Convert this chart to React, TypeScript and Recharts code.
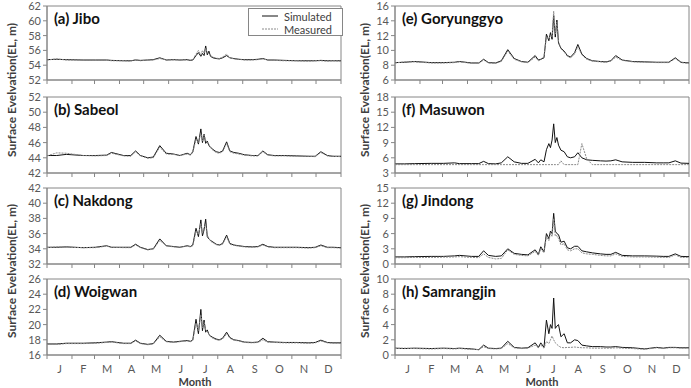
import React from "react";
import { LineChart, Line, XAxis, YAxis, ReferenceArea } from "recharts";

// day of year for every sample (shared by all stations)
const days = [0, 12, 24, 45, 60, 74, 80, 95, 104, 110, 116, 125, 132, 140, 148, 157, 165, 174, 178, 181, 185, 188, 191, 193, 195, 197, 199, 201, 203, 206, 210, 214, 218, 223, 227, 232, 238, 245, 255, 262, 268, 274, 282, 295, 310, 325, 333, 340, 348, 355, 365];

const monthStarts = [0, 31, 59, 90, 120, 151, 181, 212, 243, 273, 304, 334, 365];
const monthLabels = ["J", "F", "M", "A", "M", "J", "J", "A", "S", "O", "N", "D"];

const jiboSim = [54.75, 54.8, 54.75, 54.7, 54.7, 54.7, 54.65, 54.6, 54.6, 54.7, 54.65, 54.7, 54.75, 55.0, 54.7, 54.75, 54.7, 54.75, 54.65, 54.7, 55.3, 55.7, 55.2, 55.6, 55.3, 56.6, 55.4, 55.9, 55.2, 55.0, 54.9, 54.85, 55.0, 55.3, 55.0, 54.9, 54.8, 54.75, 54.75, 54.8, 54.9, 54.7, 54.7, 54.65, 54.6, 54.6, 54.6, 54.65, 54.6, 54.6, 54.6];
const jiboObs = [54.7, 54.85, 54.7, 54.7, 54.65, 54.7, 54.6, 54.6, 54.55, 54.75, 54.6, 54.7, 54.7, 54.9, 54.75, 54.7, 54.75, 54.7, 54.7, 54.75, 55.5, 56.0, 55.4, 56.0, 55.6, 56.3, 55.7, 55.6, 55.3, 55.1, 54.95, 54.9, 55.1, 55.5, 55.0, 54.85, 54.8, 54.7, 54.7, 54.75, 54.85, 54.7, 54.65, 54.6, 54.6, 54.55, 54.6, 54.6, 54.55, 54.6, 54.55];

const sabeolSim = [44.3, 44.3, 44.45, 44.3, 44.3, 44.35, 44.7, 44.3, 44.3, 44.9, 44.3, 44.0, 44.1, 45.6, 44.6, 44.5, 44.3, 44.6, 44.4, 44.8, 46.8, 45.8, 47.8, 46.0, 47.1, 45.9, 46.2, 45.6, 45.4, 45.1, 44.8, 44.7, 44.9, 46.1, 44.9, 44.7, 44.6, 44.4, 44.3, 44.3, 44.9, 44.4, 44.3, 44.3, 44.25, 44.2, 44.2, 44.8, 44.3, 44.2, 44.2];
const sabeolObs = [44.25, 44.65, 44.6, 44.3, 44.25, 44.3, 44.6, 44.25, 44.2, 44.8, 44.25, 43.95, 44.0, 45.4, 44.5, 44.45, 44.3, 44.5, 44.35, 44.7, 46.4, 46.0, 47.2, 46.2, 47.0, 46.3, 46.0, 45.8, 45.3, 45.0, 44.7, 44.6, 44.8, 45.9, 44.8, 44.6, 44.5, 44.35, 44.25, 44.25, 44.8, 44.35, 44.25, 44.25, 44.2, 44.2, 44.15, 44.7, 44.25, 44.2, 44.15];

const nakdongSim = [34.2, 34.2, 34.25, 34.15, 34.2, 34.4, 34.2, 34.2, 34.2, 34.6, 34.2, 33.9, 34.0, 35.3, 34.4, 34.3, 34.2, 34.4, 34.3, 34.5, 36.7, 35.6, 37.8, 35.7, 36.5, 37.9, 35.6, 35.3, 35.1, 34.9, 34.6, 34.5, 34.7, 35.8, 34.7, 34.5, 34.4, 34.3, 34.25, 34.3, 34.6, 34.3, 34.2, 34.2, 34.2, 34.15, 34.2, 34.5, 34.2, 34.2, 34.15];
const nakdongObs = [34.15, 34.25, 34.2, 34.15, 34.15, 34.35, 34.2, 34.15, 34.15, 34.5, 34.15, 33.85, 33.95, 35.1, 34.4, 34.25, 34.2, 34.35, 34.25, 34.4, 36.3, 35.9, 37.3, 36.0, 36.8, 37.2, 35.8, 35.4, 35.0, 34.8, 34.55, 34.45, 34.6, 35.6, 34.6, 34.45, 34.35, 34.25, 34.2, 34.25, 34.5, 34.25, 34.15, 34.15, 34.15, 34.1, 34.15, 34.4, 34.15, 34.15, 34.1];

const woigwanSim = [17.45, 17.45, 17.55, 17.55, 17.6, 17.7, 17.75, 17.55, 17.55, 17.95, 17.55, 17.4, 17.5, 18.6, 17.8, 17.7, 17.8, 17.9, 17.8, 18.0, 20.7, 18.8, 22.0, 19.2, 20.6, 19.0, 19.3, 18.7, 18.5, 18.3, 18.1, 18.0, 18.2, 19.0, 18.3, 18.0, 17.9, 17.7, 17.65, 17.7, 18.2, 17.75, 17.7, 17.65, 17.65, 17.6, 17.65, 17.95, 17.65, 17.6, 17.6];
const woigwanObs = [17.4, 17.4, 17.5, 17.5, 17.55, 17.65, 17.7, 17.5, 17.5, 17.85, 17.5, 17.35, 17.45, 18.4, 17.75, 17.65, 17.75, 17.85, 17.75, 17.9, 20.2, 19.2, 21.3, 19.6, 20.3, 19.3, 19.0, 18.8, 18.4, 18.2, 18.0, 17.95, 18.1, 18.8, 18.2, 17.95, 17.85, 17.65, 17.6, 17.65, 18.0, 17.7, 17.65, 17.6, 17.6, 17.55, 17.6, 17.85, 17.6, 17.55, 17.55];

const goryunggyoSim = [8.35, 8.4, 8.5, 8.35, 8.35, 8.4, 8.5, 8.3, 8.3, 8.8, 8.35, 8.3, 8.6, 10.1, 8.9, 8.5, 8.4, 9.3, 8.7, 8.8, 9.0, 12.2, 11.3, 12.4, 11.5, 14.7, 11.8, 14.1, 11.0, 10.3, 9.9, 9.3, 9.1, 9.7, 10.8, 9.5, 8.9, 8.6, 8.5, 8.45, 8.6, 9.3, 8.7, 8.5, 8.45, 8.4, 8.4, 8.4, 9.0, 8.4, 8.3];
const goryunggyoObs = [8.3, 8.45, 8.45, 8.3, 8.3, 8.35, 8.45, 8.25, 8.25, 8.7, 8.3, 8.25, 8.5, 9.9, 8.8, 8.45, 8.35, 9.1, 8.6, 8.7, 9.2, 11.8, 11.6, 12.0, 11.8, 15.3, 12.2, 13.8, 11.2, 10.2, 9.8, 9.2, 9.0, 9.5, 10.5, 9.4, 8.8, 8.55, 8.45, 8.4, 8.55, 9.1, 8.65, 8.45, 8.4, 8.35, 8.35, 8.35, 8.9, 8.35, 8.25];

const masuwonSim = [4.8, 4.8, 4.85, 4.9, 4.9, 5.0, 4.85, 4.85, 4.85, 5.3, 4.85, 4.8, 5.0, 6.2, 5.2, 4.9, 4.9, 5.7, 5.0, 5.6, 5.2, 7.6, 8.8, 8.0, 9.5, 12.7, 9.0, 10.0, 8.5, 7.5, 7.2, 6.2, 6.0, 6.2, 7.0, 6.0, 5.6, 5.5, 5.4, 5.35, 5.4, 5.6, 5.2, 5.1, 5.1, 5.0, 5.0, 5.0, 5.4, 4.95, 4.9];
const masuwonObs = [4.65, 4.65, 4.65, 4.65, 4.65, 4.65, 4.65, 4.65, 4.65, 4.65, 4.65, 4.65, 4.65, 4.65, 4.65, 4.65, 4.65, 4.65, 4.65, 4.65, 4.65, 4.65, 4.65, 4.65, 4.65, 4.65, 4.65, 4.65, 4.65, 5.4, 4.65, 4.65, 4.65, 4.65, 4.65, 8.8, 5.8, 4.65, 4.65, 4.65, 4.65, 4.65, 4.65, 4.65, 4.65, 4.65, 4.65, 4.65, 4.65, 4.65, 4.65];

const jindongSim = [1.4, 1.4, 1.45, 1.5, 1.5, 1.6, 1.7, 1.5, 1.5, 2.6, 1.7, 1.5, 1.6, 3.0, 2.1, 1.9, 1.8, 2.8, 1.9, 3.4, 2.4, 6.0, 5.0, 6.5, 6.0, 10.0, 6.5, 6.0, 5.8, 4.3, 4.5, 3.2, 3.0, 3.5, 3.5, 2.6, 2.4, 2.2, 2.0, 1.9, 1.9, 2.3, 1.7, 1.6, 1.6, 1.55, 1.5, 1.5, 2.0, 1.5, 1.45];
const jindongObs = [1.25, 1.25, 1.3, 1.3, 1.35, 1.4, 1.45, 1.3, 1.25, 2.0, 1.3, 1.0, 1.1, 2.8, 1.9, 1.7, 1.6, 2.5, 1.7, 3.0, 2.2, 5.5, 4.6, 6.0, 5.4, 9.0, 5.5, 5.6, 5.0, 3.8, 4.0, 2.8, 2.6, 3.0, 3.0, 2.2, 2.0, 1.9, 1.7, 1.6, 1.6, 2.0, 1.5, 1.4, 1.4, 1.35, 1.3, 1.3, 1.8, 1.3, 1.3];

const samrangjinSim = [0.9, 0.85, 0.9, 0.85, 0.9, 0.85, 0.9, 0.8, 0.7, 1.3, 0.9, 0.85, 0.9, 1.8, 1.0, 0.9, 0.95, 1.6, 1.0, 1.6, 1.0, 4.6, 2.8, 4.0, 3.5, 7.5, 3.5, 3.8, 4.0, 2.4, 2.8, 1.6, 1.6, 2.0, 1.9, 1.3, 1.2, 1.1, 1.1, 1.05, 1.05, 1.1, 1.0, 0.95, 0.8, 1.0, 0.9, 1.0, 1.0, 0.95, 0.95];
const samrangjinObs = [0.85, 0.9, 0.85, 0.8, 0.85, 0.8, 0.85, 0.75, 0.7, 1.1, 0.85, 0.8, 0.85, 1.5, 0.95, 0.85, 0.9, 1.3, 0.95, 1.3, 0.9, 1.8, 1.5, 2.0, 2.5, 2.0, 1.6, 1.4, 1.2, 1.0, 0.95, 1.0, 1.0, 1.05, 1.0, 0.95, 0.95, 0.9, 0.9, 0.9, 0.9, 0.95, 0.9, 0.85, 0.75, 0.95, 0.85, 0.95, 0.95, 0.9, 0.9];

const AXIS = "#868686";
const TEXT = "#595959";
const PLOT_W = 294;
const PLOT_TOPS = [6, 97, 188, 279];
const PLOT_HS = [74, 76, 76, 76];
const TOP_PAD = 8;

type Panel = { title: string; sim: number[]; obs: number[]; domain: [number, number]; ticks: number[] };

const leftPanels: Panel[] = [
    { title: "(a) Jibo", sim: jiboSim, obs: jiboObs, domain: [52, 62], ticks: [52, 54, 56, 58, 60, 62] },
    { title: "(b) Sabeol", sim: sabeolSim, obs: sabeolObs, domain: [42, 52], ticks: [42, 44, 46, 48, 50, 52] },
    { title: "(c) Nakdong", sim: nakdongSim, obs: nakdongObs, domain: [32, 42], ticks: [32, 34, 36, 38, 40, 42] },
    { title: "(d) Woigwan", sim: woigwanSim, obs: woigwanObs, domain: [16, 26], ticks: [16, 18, 20, 22, 24, 26] },
];

const rightPanels: Panel[] = [
    { title: "(e) Goryunggyo", sim: goryunggyoSim, obs: goryunggyoObs, domain: [6, 16], ticks: [6, 8, 10, 12, 14, 16] },
    { title: "(f) Masuwon", sim: masuwonSim, obs: masuwonObs, domain: [3, 18], ticks: [3, 6, 9, 12, 15, 18] },
    { title: "(g) Jindong", sim: jindongSim, obs: jindongObs, domain: [0, 15], ticks: [0, 3, 6, 9, 12, 15] },
    { title: "(h) Samrangjin", sim: samrangjinSim, obs: samrangjinObs, domain: [0, 10], ticks: [0, 2, 4, 6, 8, 10] },
];

const MonthTick = (props: any) => {
    const { x, y, payload } = props;
    const i = monthStarts.indexOf(payload.value);
    if (i < 0 || i >= monthLabels.length) return <g />;
    // label sits in the middle of the month, ticks mark the month boundaries
    const half = ((monthStarts[i + 1] - monthStarts[i]) / 2) * (PLOT_W / 365);
    return (
        <text x={x + half} y={y} dy={12} textAnchor="middle" fill={TEXT} fontSize={11}>
            {monthLabels[i]}
        </text>
    );
};

const NoTick = () => <g />;

function StationChart({ panel, left, row, bottom }: { panel: Panel; left: number; row: number; bottom: boolean }) {
    const data = days.map((d, i) => ({ day: d, sim: panel.sim[i], obs: panel.obs[i] }));
    const axisH = bottom ? 30 : 6;
    return (
        <div style={{ position: "absolute", left, top: PLOT_TOPS[row] - TOP_PAD }}>
            <LineChart width={343} height={TOP_PAD + PLOT_HS[row] + axisH} data={data} margin={{ top: TOP_PAD, right: 2, bottom: 0, left: 0 }}>
                <ReferenceArea
                    x1={0} x2={365} y1={panel.domain[0]} y2={panel.domain[1]}
                    fill="none" stroke={AXIS} strokeWidth={1} ifOverflow="visible"
                    label={{ value: panel.title, position: "insideTopLeft", offset: 7, fill: "#111", fontSize: 15, fontWeight: 700 }}
                />
                <XAxis
                    dataKey="day" type="number" domain={[0, 365]} ticks={monthStarts} interval={0}
                    height={axisH} tickSize={4} axisLine={{ stroke: AXIS }} tickLine={{ stroke: AXIS }}
                    tick={bottom ? MonthTick : NoTick}
                />
                <YAxis
                    type="number" domain={panel.domain} ticks={panel.ticks} interval={0} width={47}
                    tickSize={4} axisLine={{ stroke: AXIS }} tickLine={{ stroke: AXIS }}
                    tick={{ fill: TEXT, fontSize: 11 }}
                />
                <Line dataKey="sim" stroke="#111" strokeWidth={1} dot={false} isAnimationActive={false} />
                <Line dataKey="obs" stroke="#8a8a8a" strokeWidth={1} strokeDasharray="2 1" dot={false} isAnimationActive={false} />
            </LineChart>
        </div>
    );
}

export default function App() {
    const yLabel = "Surface Evelvation(EL, m)";
    return (
        <div style={{ position: "absolute", left: 0, top: 0, width: 691, height: 388, overflow: "hidden", background: "#fff", fontFamily: "Lato, 'Open Sans', sans-serif" }}>
            {leftPanels.map((p, i) => (
                <StationChart key={p.title} panel={p} left={0} row={i} bottom={i === 3} />
            ))}
            {rightPanels.map((p, i) => (
                <StationChart key={p.title} panel={p} left={348} row={i} bottom={i === 3} />
            ))}
            <svg width={691} height={388} style={{ position: "absolute", left: 0, top: 0, pointerEvents: "none" }}>
                {[[11, 90], [11, 271], [364, 90], [364, 271]].map(([x, y], i) => (
                    <text key={i} x={x} y={y} transform={`rotate(-90 ${x} ${y})`} textAnchor="middle" dominantBaseline="central" fontSize={12} fontWeight={700} fill="#404040">
                        {yLabel}
                    </text>
                ))}
                <text x={195} y={386} textAnchor="middle" fontSize={11} fontWeight={700} fill="#404040">Month</text>
                <text x={542} y={386} textAnchor="middle" fontSize={11} fontWeight={700} fill="#404040">Month</text>
                {/* legend */}
                <rect x={248.5} y={8.5} width={94} height={27} fill="#fff" stroke={AXIS} />
                <line x1={262} x2={278} y1={16} y2={16} stroke="#111" strokeWidth={1} />
                <text x={284} y={16} dominantBaseline="central" fontSize={11} fill="#404040">Simulated</text>
                <line x1={262} x2={278} y1={29} y2={29} stroke="#8a8a8a" strokeWidth={1} strokeDasharray="2 1" />
                <text x={284} y={29} dominantBaseline="central" fontSize={11} fill="#404040">Measured</text>
            </svg>
        </div>
    );
}
